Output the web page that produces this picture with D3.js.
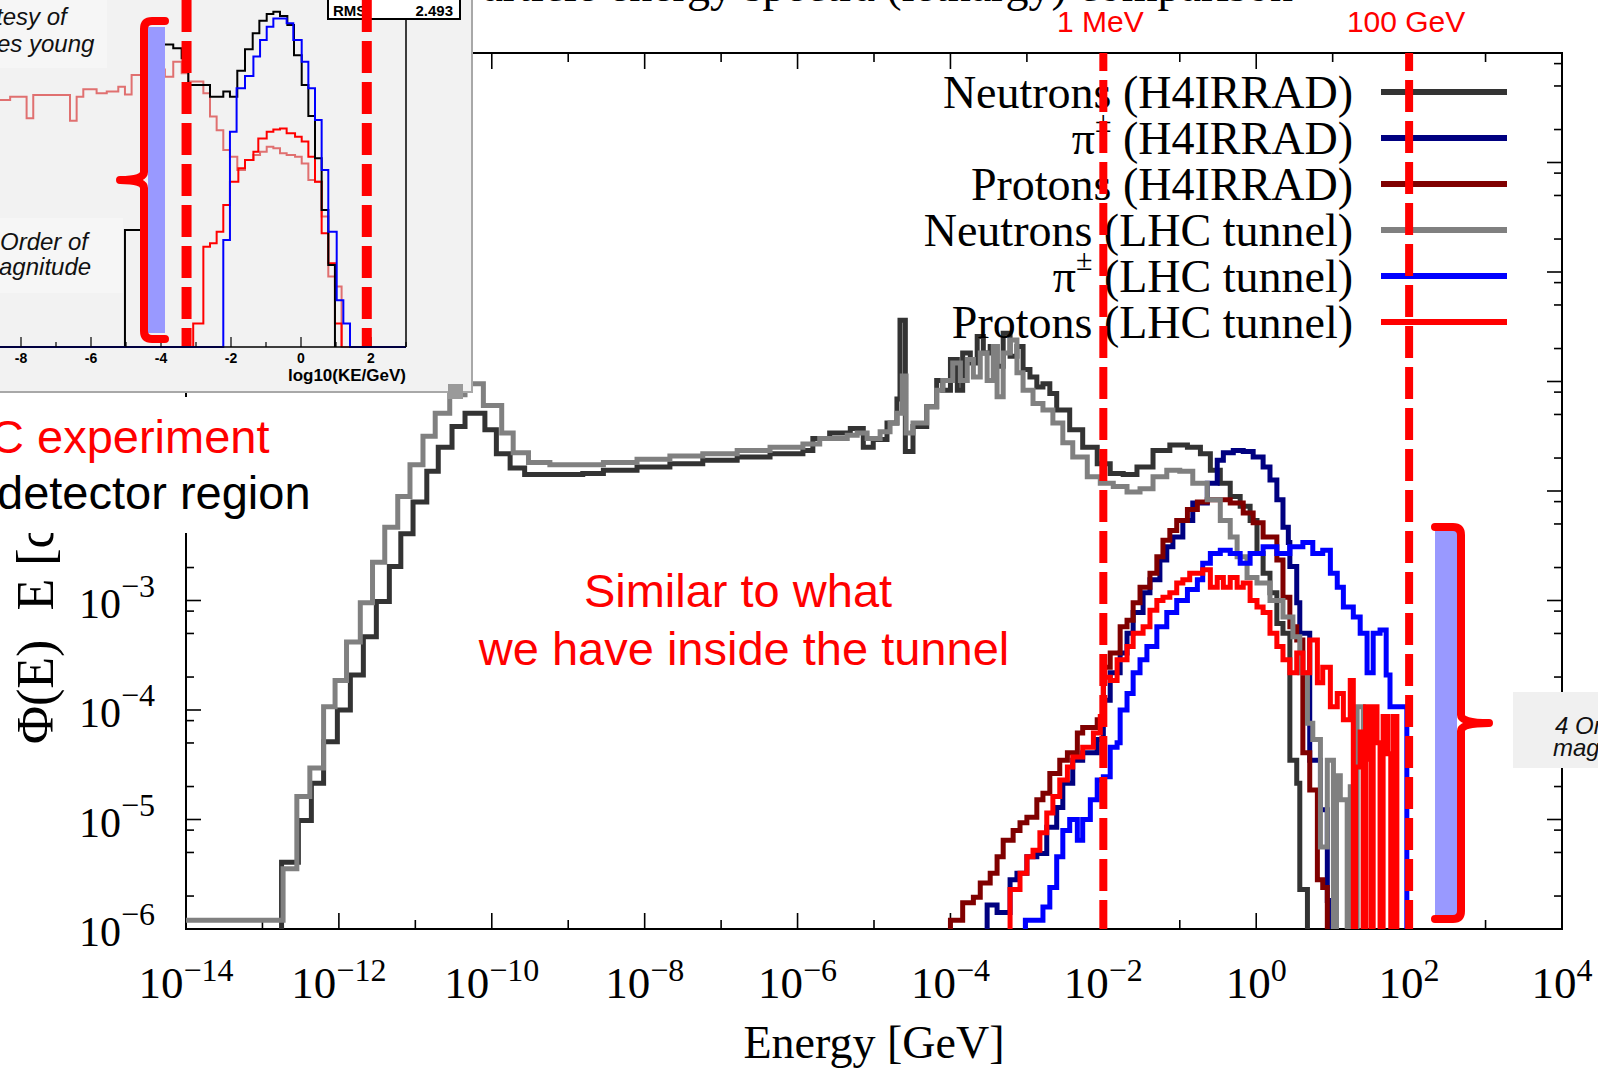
<!DOCTYPE html>
<html>
<head>
<meta charset="utf-8">
<script src="https://cdn.jsdelivr.net/npm/d3@7"></script>
<style>
  html, body { margin: 0; padding: 0; background: #fff; overflow: hidden; }
  svg { display: block; }
</style>
</head>
<body>
<svg id="chart" width="1598" height="1068"></svg>
<script>
// ---------------------------------------------------------------------------
// Spectra: each point is [log10(E / GeV), log10(Φ(E)·E)], drawn as a step
// histogram (value holds until the next edge).  Values below 1e-6 drop off
// the bottom of the frame.
// ---------------------------------------------------------------------------
const neutronsH4irrad = [
  [-12.75,-7.0],[-12.75,-5.39],[-12.53,-5.01],[-12.36,-4.67],[-12.20,-4.29],[-12.02,-4.00],
  [-11.85,-3.68],[-11.68,-3.33],[-11.51,-3.01],[-11.34,-2.69],[-11.19,-2.39],[-11.03,-2.10],
  [-10.85,-1.82],[-10.70,-1.60],[-10.52,-1.41],[-10.35,-1.29],[-10.09,-1.44],[-9.94,-1.66],
  [-9.76,-1.79],[-9.57,-1.85],[-9.24,-1.85],[-8.81,-1.84],[-8.54,-1.81],[-8.10,-1.78],
  [-7.67,-1.75],[-7.24,-1.72],[-6.79,-1.69],[-6.36,-1.66],[-5.93,-1.63],[-5.80,-1.52],
  [-5.58,-1.47],[-5.31,-1.43],[-5.14,-1.60],[-5.01,-1.53],[-4.83,-1.38],[-4.70,-1.16],
  [-4.66,-0.44],[-4.59,-1.64],[-4.49,-1.41],[-4.31,-1.23],[-4.18,-0.99],[-4.10,-1.08],
  [-4.00,-0.80],[-3.91,-1.08],[-3.84,-0.74],[-3.74,-0.83],[-3.65,-0.59],[-3.57,-0.74],
  [-3.48,-0.68],[-3.39,-0.86],[-3.31,-0.56],[-3.22,-0.77],[-3.13,-0.68],[-3.05,-0.89],
  [-2.96,-0.96],[-2.87,-1.05],[-2.79,-1.02],[-2.70,-1.11],[-2.61,-1.26],[-2.44,-1.44],
  [-2.27,-1.60],[-2.08,-1.75],[-1.91,-1.84],[-1.74,-1.85],[-1.56,-1.78],[-1.35,-1.63],
  [-1.13,-1.58],[-0.90,-1.60],[-0.73,-1.66],[-0.60,-1.81],[-0.47,-1.93],[-0.34,-2.05],
  [-0.21,-2.14],[-0.08,-2.27],[0.01,-2.57],[0.09,-2.75],[0.18,-2.93],[0.27,-3.21],
  [0.35,-3.30],[0.44,-4.46],[0.53,-4.67],[0.57,-5.64],[0.67,-7.0]
];

const pionsH4irrad = [
  [-3.55,-7.0],[-3.52,-5.78],[-3.39,-5.85],[-3.22,-5.55],[-3.13,-5.49],[-3.00,-5.34],
  [-2.87,-5.31],[-2.74,-5.07],[-2.61,-4.89],[-2.53,-4.67],[-2.40,-4.46],[-2.27,-4.39],
  [-2.08,-4.27],[-2.00,-3.91],[-1.91,-3.66],[-1.78,-3.48],[-1.69,-3.30],[-1.61,-3.11],
  [-1.48,-2.93],[-1.39,-2.81],[-1.26,-2.63],[-1.17,-2.51],[-1.09,-2.42],[-0.96,-2.27],
  [-0.83,-2.11],[-0.64,-1.93],[-0.51,-1.72],[-0.43,-1.65],[-0.30,-1.63],[-0.17,-1.64],
  [-0.04,-1.69],[0.09,-1.78],[0.18,-1.90],[0.27,-2.08],[0.35,-2.33],[0.42,-2.47],
  [0.44,-2.69],[0.53,-3.02],[0.57,-3.30],[0.70,-4.46],[0.84,-4.91],[0.93,-5.74],[0.97,-7.0]
];

const protonsH4irrad = [
  [-4.05,-7.0],[-4.00,-5.92],[-3.84,-5.76],[-3.70,-5.71],[-3.61,-5.58],[-3.48,-5.49],
  [-3.39,-5.34],[-3.31,-5.19],[-3.18,-5.10],[-3.09,-5.03],[-3.00,-4.98],[-2.87,-4.82],
  [-2.79,-4.76],[-2.70,-4.58],[-2.57,-4.46],[-2.47,-4.39],[-2.34,-4.21],[-2.27,-4.16],
  [-2.08,-4.09],[-2.00,-3.61],[-1.91,-3.48],[-1.78,-3.24],[-1.69,-3.18],[-1.61,-3.02],
  [-1.52,-2.88],[-1.39,-2.75],[-1.30,-2.60],[-1.22,-2.45],[-1.13,-2.36],[-1.04,-2.27],
  [-0.90,-2.17],[-0.77,-2.10],[-0.64,-2.08],[-0.51,-2.08],[-0.34,-2.11],[-0.17,-2.20],
  [-0.04,-2.29],[0.09,-2.42],[0.27,-2.63],[0.35,-2.97],[0.44,-3.24],[0.53,-3.36],
  [0.61,-4.39],[0.70,-4.73],[0.80,-5.55],[0.87,-5.62],[0.93,-7.0]
];

const neutronsTunnel = [
  [-14.0,-5.92],[-12.73,-5.45],[-12.55,-4.79],[-12.38,-4.53],[-12.20,-3.97],[-12.05,-3.73],
  [-11.90,-3.38],[-11.72,-3.02],[-11.56,-2.65],[-11.40,-2.33],[-11.23,-2.05],[-11.07,-1.76],
  [-10.90,-1.50],[-10.74,-1.29],[-10.55,-1.12],[-10.35,-1.02],[-10.11,-1.22],[-9.87,-1.47],
  [-9.72,-1.65],[-9.52,-1.74],[-9.24,-1.76],[-8.54,-1.74],[-8.10,-1.71],[-7.67,-1.68],
  [-7.24,-1.66],[-6.79,-1.63],[-6.36,-1.60],[-5.93,-1.57],[-5.71,-1.52],[-5.35,-1.49],
  [-5.22,-1.47],[-5.09,-1.52],[-4.92,-1.46],[-4.79,-1.38],[-4.70,-1.29],[-4.63,-0.95],
  [-4.58,-1.47],[-4.49,-1.38],[-4.31,-1.23],[-4.18,-1.08],[-4.10,-0.99],[-3.97,-0.83],
  [-3.87,-0.99],[-3.78,-0.80],[-3.70,-0.96],[-3.61,-0.74],[-3.52,-0.99],[-3.44,-0.68],
  [-3.39,-1.14],[-3.31,-0.74],[-3.22,-0.62],[-3.13,-0.92],[-3.05,-1.08],[-2.92,-1.20],
  [-2.79,-1.26],[-2.66,-1.38],[-2.53,-1.56],[-2.40,-1.69],[-2.21,-1.87],[-2.04,-1.93],
  [-1.87,-1.96],[-1.69,-2.01],[-1.52,-1.98],[-1.35,-1.87],[-1.17,-1.81],[-1.00,-1.82],
  [-0.83,-1.93],[-0.64,-2.08],[-0.47,-2.27],[-0.34,-2.42],[-0.25,-2.60],[-0.12,-2.79],
  [0.01,-2.84],[0.18,-3.00],[0.35,-3.15],[0.48,-3.33],[0.57,-3.66],[0.67,-4.12],
  [0.74,-4.27],[0.84,-5.25],[0.93,-4.46],[1.01,-7.0],[1.05,-4.60],[1.10,-4.82],[1.19,-7.0],
  [1.23,-4.70],[1.28,-7.0],[1.32,-3.97],[1.40,-7.0]
];

const pionsTunnel = [
  [-3.02,-7.0],[-3.02,-5.92],[-2.79,-5.80],[-2.70,-5.62],[-2.61,-5.34],[-2.53,-5.10],
  [-2.44,-5.00],[-2.34,-5.19],[-2.27,-5.00],[-2.17,-4.82],[-2.08,-4.64],[-2.00,-4.61],
  [-1.91,-4.34],[-1.82,-4.30],[-1.78,-4.00],[-1.69,-3.85],[-1.61,-3.66],[-1.52,-3.54],
  [-1.43,-3.42],[-1.30,-3.24],[-1.17,-3.11],[-1.04,-3.00],[-0.90,-2.90],[-0.77,-2.81],
  [-0.70,-2.66],[-0.60,-2.57],[-0.47,-2.54],[-0.34,-2.57],[-0.21,-2.66],[-0.08,-2.57],
  [0.09,-2.51],[0.27,-2.57],[0.44,-2.51],[0.61,-2.47],[0.74,-2.57],[0.87,-2.54],
  [0.97,-2.75],[1.06,-2.88],[1.14,-3.06],[1.27,-3.15],[1.36,-3.30],[1.45,-3.66],
  [1.53,-3.30],[1.62,-3.27],[1.70,-3.68],[1.75,-3.97],[1.97,-7.0]
];

const protonsTunnel = [
  [-3.22,-7.0],[-3.22,-5.64],[-3.09,-5.49],[-3.00,-5.34],[-2.92,-5.28],[-2.83,-5.12],
  [-2.74,-4.94],[-2.66,-4.79],[-2.57,-4.64],[-2.47,-4.52],[-2.40,-4.43],[-2.27,-4.34],
  [-2.13,-4.21],[-2.04,-4.06],[-2.00,-3.70],[-1.91,-3.73],[-1.82,-3.54],[-1.69,-3.42],
  [-1.61,-3.30],[-1.48,-3.24],[-1.39,-3.09],[-1.30,-3.00],[-1.22,-2.97],[-1.13,-2.93],
  [-1.04,-2.84],[-0.96,-2.81],[-0.87,-2.75],[-0.77,-2.75],[-0.70,-2.72],[-0.60,-2.88],
  [-0.51,-2.79],[-0.43,-2.88],[-0.34,-2.79],[-0.25,-2.88],[-0.17,-2.84],[-0.08,-3.00],
  [0.01,-3.06],[0.09,-3.11],[0.18,-3.30],[0.27,-3.42],[0.35,-3.54],[0.44,-3.66],
  [0.53,-3.48],[0.61,-3.66],[0.70,-3.36],[0.80,-3.75],[0.87,-3.61],[0.97,-3.97],
  [1.06,-3.85],[1.14,-4.09],[1.23,-3.73],[1.27,-7.0],[1.30,-4.52],[1.36,-4.20],
  [1.40,-7.0],[1.43,-3.97],[1.47,-4.45],[1.50,-7.0],[1.53,-3.97],[1.58,-4.30],
  [1.62,-7.0],[1.66,-4.06],[1.72,-4.40],[1.76,-7.0],[1.79,-4.06],[1.84,-7.0]
];

const seriesNames = [
  "Neutrons (H4IRRAD)", "π± (H4IRRAD)", "Protons (H4IRRAD)",
  "Neutrons (LHC tunnel)", "π± (LHC tunnel)", "Protons (LHC tunnel)"
];
const seriesColors = ["#333333", "#000080", "#800000", "#808080", "#0000ff", "#ff0000"];
const seriesData = [neutronsH4irrad, pionsH4irrad, protonsH4irrad, neutronsTunnel, pionsTunnel, protonsTunnel];

// Axis ticks (exponents of ten)
const xTickExps = d3.range(-14, 5);
const xLabelExps = [-14, -12, -10, -8, -6, -4, -2, 0, 2, 4];
const yTickExps = d3.range(-6, 3);
const yLabelExps = [-6, -5, -4, -3];
const yMinorMantissas = [2, 5, 8];

// Energy thresholds marked with dashed lines: [label, energy in GeV]
const thresholds = [["1 MeV", 1e-2], ["100 GeV", 1e2]];

// Inset histogram: [log10(KE/GeV), relative height]
const insetNeutrons = [
  [-5.03,0],[-5.03,33.7],[-4.3,87.2],[-3.65,86.1],[-3.41,83.2],[-3.22,75.5],[-2.6,72.1],
  [-2.22,73.6],[-2.03,72.1],[-1.82,79.6],[-1.6,85.8],[-1.38,90.4],[-1.19,94.0],[-0.98,96.0],
  [-0.79,96.6],[-0.6,95.4],[-0.39,92.8],[-0.2,84.1],[0.02,75.5],[0.21,66.6],[0.4,54.4],
  [0.59,39.5],[0.78,23.6],[0.97,0]
];
const insetPions = [
  [-9.5,0],[-2.22,0],[-2.22,30.8],[-2.03,62.0],[-1.84,74.6],[-1.6,78.1],[-1.36,83.7],
  [-1.17,88.5],[-0.98,92.3],[-0.79,94.7],[-0.41,93.3],[-0.22,88.5],[0.02,82.2],[0.21,74.6],
  [0.4,65.4],[0.59,51.0],[0.78,33.2],[1.02,13.5],[1.21,6.8],[1.4,0],[3.0,0]
];
const insetProtons = [
  [-3.08,0],[-3.08,6.8],[-2.79,28.9],[-2.6,29.9],[-2.41,33.2],[-2.22,40.9],[-2.03,47.6],
  [-1.79,51.5],[-1.6,53.9],[-1.36,56.3],[-1.22,60.1],[-0.98,62.0],[-0.79,62.7],[-0.6,63.0],
  [-0.41,61.6],[-0.17,60.6],[0.02,59.2],[0.21,54.8],[0.4,47.6],[0.59,32.8],[0.78,24.1],
  [0.97,6.8],[1.16,0]
];
const insetPaleSeries = [
  [-9.5,71.2],[-8.31,72.1],[-7.84,65.9],[-7.65,72.6],[-6.6,65.2],[-6.41,72.1],[-6.22,74.3],
  [-5.84,73.1],[-5.55,73.6],[-5.22,75.0],[-5.03,72.8],[-4.84,78.4],[-4.3,80.0],[-3.89,77.9],
  [-3.65,82.2],[-3.41,78.9],[-3.22,76.5],[-2.79,73.1],[-2.6,66.4],[-2.41,62.5],[-2.22,56.8],
  [-2.03,54.8],[-1.82,51.0],[-1.6,53.9],[-1.36,55.3],[-1.17,56.3],[-0.98,57.7],[-0.79,57.3],
  [-0.6,55.8],[-0.41,55.3],[-0.17,54.8],[0.02,52.9],[0.21,48.1],[0.4,47.6],[0.59,37.6],
  [0.78,20.3],[0.97,17.4],[1.16,0],[3.0,0]
];
const insetTickValues = d3.range(-9, 4);
const insetLabelValues = [-8, -6, -4, -2, 0, 2];
const insetMarkers = [-3.27, 1.88];
const insetRms = "2.493";

// ---------------------------------------------------------------------------
const SERIF = "'Liberation Serif','Times New Roman',serif";
const SANS = "'Liberation Sans',Arial,sans-serif";
const svg = d3.select("#chart");

const plotLeft = 186, plotRight = 1562, plotTop = 53, plotBottom = 929;
const x = d3.scaleLog().domain([1e-14, 1e4]).range([plotLeft, plotRight]);
const y = d3.scaleLog().domain([1e-6, 1e2]).range([plotBottom, plotTop]);

svg.append("defs").append("clipPath").attr("id", "plotClip")
  .append("rect").attr("x", plotLeft).attr("y", plotTop)
  .attr("width", plotRight - plotLeft).attr("height", plotBottom - plotTop);

function expText(e) { return e < 0 ? "\u2212" + (-e) : String(e); }

// Title (largely above the page edge)
svg.append("text").attr("x", 1293).attr("y", 1).attr("text-anchor", "end")
  .attr("font-family", SERIF).attr("font-size", 46)
  .text("Particle energy spectra (lethargy) comparison");

// Frame
svg.append("rect").attr("x", plotLeft).attr("y", plotTop)
  .attr("width", plotRight - plotLeft).attr("height", plotBottom - plotTop)
  .attr("fill", "none").attr("stroke", "#000").attr("stroke-width", 2);

const tickG = svg.append("g").attr("stroke", "#000").attr("stroke-width", 1.6);
xTickExps.forEach(e => {
  const px = x(Math.pow(10, e));
  const len = e % 2 === 0 ? 16 : 9;
  tickG.append("line").attr("x1", px).attr("x2", px).attr("y1", plotBottom).attr("y2", plotBottom - len);
  tickG.append("line").attr("x1", px).attr("x2", px).attr("y1", plotTop).attr("y2", plotTop + len);
});
yTickExps.forEach(e => {
  const py = y(Math.pow(10, e));
  tickG.append("line").attr("x1", plotLeft).attr("x2", plotLeft + 15).attr("y1", py).attr("y2", py);
  tickG.append("line").attr("x1", plotRight).attr("x2", plotRight - 15).attr("y1", py).attr("y2", py);
  if (e < 2) {
    yMinorMantissas.forEach(m => {
      const pm = y(m * Math.pow(10, e));
      tickG.append("line").attr("x1", plotLeft).attr("x2", plotLeft + 8).attr("y1", pm).attr("y2", pm);
      tickG.append("line").attr("x1", plotRight).attr("x2", plotRight - 8).attr("y1", pm).attr("y2", pm);
    });
  }
});

// Tick labels
xLabelExps.forEach(e => {
  const t = svg.append("text").attr("x", x(Math.pow(10, e))).attr("y", 998)
    .attr("text-anchor", "middle").attr("font-family", SERIF).attr("font-size", 45);
  t.append("tspan").text("10");
  t.append("tspan").attr("font-size", 32).attr("dy", -17).text(expText(e));
});
yLabelExps.forEach(e => {
  const t = svg.append("text").attr("x", 155).attr("y", y(Math.pow(10, e)) + 17)
    .attr("text-anchor", "end").attr("font-family", SERIF).attr("font-size", 42);
  t.append("tspan").text("10");
  t.append("tspan").attr("font-size", 32).attr("dy", -21).text(expText(e));
});

// Axis titles
svg.append("text").attr("x", 874).attr("y", 1058).attr("text-anchor", "middle")
  .attr("font-family", SERIF).attr("font-size", 46).text("Energy [GeV]");
const yTitle = svg.append("text").attr("transform", "translate(53,744) rotate(-90)")
  .attr("font-family", SERIF).attr("font-size", 52);
yTitle.append("tspan").text("Φ(E)");
yTitle.append("tspan").attr("dx", 16).text(" E [c");

// Spectra
const line = d3.line()
  .x(d => x(Math.pow(10, d[0])))
  .y(d => y(Math.pow(10, d[1])))
  .curve(d3.curveStepAfter);
const curveG = svg.append("g").attr("clip-path", "url(#plotClip)");
seriesData.forEach((data, i) => {
  curveG.append("path").attr("d", line(data)).attr("fill", "none")
    .attr("stroke", seriesColors[i]).attr("stroke-width", 5).attr("stroke-linejoin", "miter");
});

// Legend
const legendG = svg.append("g");
seriesNames.forEach((name, i) => {
  const ly = 92 + i * 46;
  legendG.append("line").attr("x1", 1381).attr("x2", 1507).attr("y1", ly).attr("y2", ly)
    .attr("stroke", seriesColors[i]).attr("stroke-width", 6);
  const t = legendG.append("text").attr("x", 1353).attr("y", ly + 16).attr("text-anchor", "end")
    .attr("font-family", SERIF).attr("font-size", 46);
  const k = name.indexOf("±");
  if (k >= 0) {
    t.append("tspan").text(name.slice(0, k));
    t.append("tspan").attr("font-size", 30).attr("dy", -22).text("±");
    t.append("tspan").attr("dy", 22).text(name.slice(k + 1));
  } else {
    t.text(name);
  }
});

// Threshold markers
thresholds.forEach(([label, e]) => {
  const px = x(e);
  svg.append("line").attr("x1", px).attr("x2", px).attr("y1", plotTop).attr("y2", plotBottom)
    .attr("stroke", "#ff0000").attr("stroke-width", 8)
    .attr("stroke-dasharray", "32,9").attr("stroke-dashoffset", 14);
  svg.append("text").attr("x", px - 3).attr("y", 32).attr("text-anchor", "middle")
    .attr("font-family", SANS).attr("font-size", 30).attr("fill", "#ff0000").text(label);
});

// Central note
const note = svg.append("g").attr("font-family", SANS).attr("font-size", 47)
  .attr("fill", "#ff0000").attr("text-anchor", "middle");
note.append("text").attr("x", 738).attr("y", 607).text("Similar to what");
note.append("text").attr("x", 744).attr("y", 665).text("we have inside the tunnel");

// Bracket spanning the high-energy drop
svg.append("rect").attr("x", 1435).attr("y", 531).attr("width", 22).attr("height", 384)
  .attr("fill", "#9999ff");
svg.append("path")
  .attr("d", "M1435,527 H1453 Q1461,527 1461,535 V715 Q1461,723 1489,723 Q1461,723 1461,731 V911 Q1461,919 1453,919 H1435")
  .attr("fill", "none").attr("stroke", "#ff0000").attr("stroke-width", 8)
  .attr("stroke-linecap", "round").attr("stroke-linejoin", "round");
svg.append("rect").attr("x", 1513).attr("y", 692).attr("width", 100).attr("height", 76).attr("fill", "#f0f0f0");
const ordersNote = svg.append("g").attr("font-family", SANS).attr("font-size", 24)
  .attr("font-style", "italic").attr("fill", "#111");
ordersNote.append("text").attr("x", 1555).attr("y", 734).text("4 Orders of");
ordersNote.append("text").attr("x", 1553).attr("y", 756).text("magnitude");

// Left caption box
svg.append("rect").attr("x", -2).attr("y", 397).attr("width", 334).attr("height", 136).attr("fill", "#fff");
svg.append("text").attr("x", -10).attr("y", 453).attr("font-family", SANS).attr("font-size", 47)
  .attr("fill", "#ff0000").text("C experiment");
svg.append("text").attr("x", -3).attr("y", 509).attr("font-family", SANS).attr("font-size", 47)
  .attr("fill", "#000").text("detector region");

// ---------------------------------------------------------------------------
// Inset histogram panel
// ---------------------------------------------------------------------------
const inset = svg.append("g");
inset.append("rect").attr("x", -2).attr("y", -2).attr("width", 474).attr("height", 394)
  .attr("fill", "#f2f2f2").attr("stroke", "#a8a8a8").attr("stroke-width", 2);
const ix = d3.scaleLinear().domain([-9, 3]).range([-14, 406]);
const iy = d3.scaleLinear().domain([0, 100]).range([347, 0]);

inset.append("rect").attr("x", -2).attr("y", -2).attr("width", 109).attr("height", 70).attr("fill", "#f6f6f6");
inset.append("rect").attr("x", -2).attr("y", 218).attr("width", 125).attr("height", 75).attr("fill", "#f6f6f6");
const insetText = inset.append("g").attr("font-family", SANS).attr("font-size", 24)
  .attr("font-style", "italic").attr("fill", "#111");
insetText.append("text").attr("x", -4).attr("y", 25).text("tesy of");
insetText.append("text").attr("x", -3).attr("y", 52).text("es young");
insetText.append("text").attr("x", 0).attr("y", 250).text("Order of");
insetText.append("text").attr("x", -1).attr("y", 275).text("agnitude");

const iline = d3.line().x(d => ix(d[0])).y(d => iy(d[1])).curve(d3.curveStepAfter);
[[insetPaleSeries, "#e07070"], [insetProtons, "#ff0000"], [insetNeutrons, "#000000"], [insetPions, "#0000ff"]]
  .forEach(([data, color]) => {
    inset.append("path").attr("d", iline(data)).attr("fill", "none")
      .attr("stroke", color).attr("stroke-width", 2);
  });

inset.append("line").attr("x1", -2).attr("x2", ix(3)).attr("y1", iy(0)).attr("y2", iy(0))
  .attr("stroke", "#000").attr("stroke-width", 1.5);
inset.append("line").attr("x1", ix(3)).attr("x2", ix(3)).attr("y1", -2).attr("y2", iy(0))
  .attr("stroke", "#000").attr("stroke-width", 1.5);
insetTickValues.forEach(v => {
  const len = v % 2 === 0 ? 10 : 5;
  inset.append("line").attr("x1", ix(v)).attr("x2", ix(v)).attr("y1", iy(0)).attr("y2", iy(0) - len)
    .attr("stroke", "#000").attr("stroke-width", 1.2);
});
insetLabelValues.forEach(v => {
  inset.append("text").attr("x", ix(v)).attr("y", 363).attr("text-anchor", "middle")
    .attr("font-family", SANS).attr("font-weight", "bold").attr("font-size", 14).text(String(v));
});
inset.append("text").attr("x", 406).attr("y", 381).attr("text-anchor", "end")
  .attr("font-family", SANS).attr("font-weight", "bold").attr("font-size", 17).text("log10(KE/GeV)");

// Statistics box
inset.append("rect").attr("x", 328).attr("y", -4).attr("width", 132).attr("height", 23)
  .attr("fill", "#ffffff").attr("stroke", "#000").attr("stroke-width", 2);
inset.append("text").attr("x", 333).attr("y", 16).attr("font-family", SANS).attr("font-weight", "bold")
  .attr("font-size", 15).text("RMS");
inset.append("text").attr("x", 453).attr("y", 16).attr("text-anchor", "end").attr("font-family", SANS)
  .attr("font-weight", "bold").attr("font-size", 15).text(insetRms);

// Inset dashed markers and bracket
insetMarkers.forEach(v => {
  inset.append("line").attr("x1", ix(v)).attr("x2", ix(v)).attr("y1", 0).attr("y2", 346)
    .attr("stroke", "#ff0000").attr("stroke-width", 10).attr("stroke-dasharray", "32,9");
});
inset.append("rect").attr("x", 148).attr("y", 27).attr("width", 17).attr("height", 306).attr("fill", "#9999ff");
inset.append("path")
  .attr("d", "M165,21 H152 Q144,21 144,29 V172 Q144,180 120,180 Q144,180 144,188 V331 Q144,339 152,339 H165")
  .attr("fill", "none").attr("stroke", "#ff0000").attr("stroke-width", 8)
  .attr("stroke-linecap", "round").attr("stroke-linejoin", "round");
inset.append("rect").attr("x", 448).attr("y", 384).attr("width", 15).attr("height", 15).attr("fill", "#9a9a9a");
</script>
</body>
</html>
